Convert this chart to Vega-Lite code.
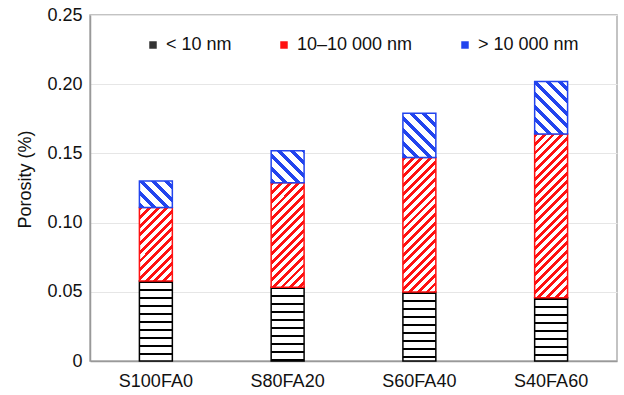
{
  "$schema": "https://vega.github.io/schema/vega-lite/v6.json",
  "width": 527,
  "height": 346,
  "autosize": {"type": "none"},
  "padding": {"left": 90, "top": 15, "right": 7, "bottom": 34},
  "config": {
    "font": "Liberation Sans",
    "view": {"stroke": "#b0b0b0", "strokeWidth": 1.5},
    "axis": {"labelFontSize": 18, "labelColor": "#111", "titleColor": "#111", "titleFontSize": 18, "titleFontWeight": "normal", "domainColor": "#999", "domainWidth": 1.5, "ticks": false, "tickSize": 0, "gridColor": "#e6e6e6", "gridWidth": 1},
    "legend": {"labelFontSize": 18, "labelColor": "#111"}
  },
  "data": {
    "values": [
      {"sample": "S100FA0", "size": "< 10 nm", "k": 1, "porosity": 0.0578},
      {"sample": "S100FA0", "size": "10–10 000 nm", "k": 2, "porosity": 0.0532},
      {"sample": "S100FA0", "size": "> 10 000 nm", "k": 3, "porosity": 0.019},
      {"sample": "S80FA20", "size": "< 10 nm", "k": 1, "porosity": 0.0532},
      {"sample": "S80FA20", "size": "10–10 000 nm", "k": 2, "porosity": 0.0756},
      {"sample": "S80FA20", "size": "> 10 000 nm", "k": 3, "porosity": 0.0232},
      {"sample": "S60FA40", "size": "< 10 nm", "k": 1, "porosity": 0.0499},
      {"sample": "S60FA40", "size": "10–10 000 nm", "k": 2, "porosity": 0.0971},
      {"sample": "S60FA40", "size": "> 10 000 nm", "k": 3, "porosity": 0.032},
      {"sample": "S40FA60", "size": "< 10 nm", "k": 1, "porosity": 0.0457},
      {"sample": "S40FA60", "size": "10–10 000 nm", "k": 2, "porosity": 0.1183},
      {"sample": "S40FA60", "size": "> 10 000 nm", "k": 3, "porosity": 0.038}
    ]
  },
  "layer": [
  {
  "mark": {"type": "bar", "strokeWidth": 1.5},
  "encoding": {
    "x": {"field": "sample", "type": "nominal", "sort": ["S100FA0", "S80FA20", "S60FA40", "S40FA60"], "scale": {"paddingInner": 0.75, "paddingOuter": 0.375}, "axis": {"title": null, "labelAngle": 0, "labelPadding": 11, "grid": false}},
    "y": {"field": "porosity", "type": "quantitative", "stack": "zero", "scale": {"domain": [0, 0.25], "nice": false}, "axis": {"title": "Porosity (%)", "values": [0, 0.05, 0.1, 0.15, 0.2, 0.25], "labelExpr": "datum.value === 0 ? '0' : format(datum.value, '.2f')", "labelPadding": 8, "grid": true, "titleX": -65, "titleY": 164, "titleAngle": -90, "titleAlign": "center", "titleBaseline": "middle"}},
    "order": {"field": "k", "type": "quantitative"},
    "stroke": {"field": "size", "type": "nominal", "scale": {"domain": ["> 10 000 nm", "10–10 000 nm", "< 10 nm"], "range": ["#24e", "#f11", "#000"]}, "legend": null},
    "fill": {
      "condition": [
        {"test": "datum.k == 1 && datum.sample == 'S100FA0'", "value": {"gradient": "linear", "x1": 0, "y1": 0, "x2": 0, "y2": 1.25, "stops": [{"offset":0,"color":"#000"},{"offset":0.02,"color":"#000"},{"offset":0.02,"color":"#fff"},{"offset":0.08,"color":"#fff"},{"offset":0.08,"color":"#000"},{"offset":0.1,"color":"#000"},{"offset":0.1,"color":"#fff"},{"offset":0.16,"color":"#fff"},{"offset":0.16,"color":"#000"},{"offset":0.18,"color":"#000"},{"offset":0.18,"color":"#fff"},{"offset":0.24,"color":"#fff"},{"offset":0.24,"color":"#000"},{"offset":0.26,"color":"#000"},{"offset":0.26,"color":"#fff"},{"offset":0.32,"color":"#fff"},{"offset":0.32,"color":"#000"},{"offset":0.34,"color":"#000"},{"offset":0.34,"color":"#fff"},{"offset":0.4,"color":"#fff"},{"offset":0.4,"color":"#000"},{"offset":0.42,"color":"#000"},{"offset":0.42,"color":"#fff"},{"offset":0.48,"color":"#fff"},{"offset":0.48,"color":"#000"},{"offset":0.5,"color":"#000"},{"offset":0.5,"color":"#fff"},{"offset":0.56,"color":"#fff"},{"offset":0.56,"color":"#000"},{"offset":0.58,"color":"#000"},{"offset":0.58,"color":"#fff"},{"offset":0.64,"color":"#fff"},{"offset":0.64,"color":"#000"},{"offset":0.66,"color":"#000"},{"offset":0.66,"color":"#fff"},{"offset":0.72,"color":"#fff"},{"offset":0.72,"color":"#000"},{"offset":0.74,"color":"#000"},{"offset":0.74,"color":"#fff"},{"offset":0.8,"color":"#fff"},{"offset":0.8,"color":"#000"},{"offset":0.82,"color":"#000"},{"offset":0.82,"color":"#fff"},{"offset":1,"color":"#fff"}]}},
        {"test": "datum.k == 1 && datum.sample == 'S80FA20'", "value": {"gradient": "linear", "x1": 0, "y1": 0, "x2": 0, "y2": 1.3587, "stops": [{"offset":0,"color":"#000"},{"offset":0.02,"color":"#000"},{"offset":0.02,"color":"#fff"},{"offset":0.08,"color":"#fff"},{"offset":0.08,"color":"#000"},{"offset":0.1,"color":"#000"},{"offset":0.1,"color":"#fff"},{"offset":0.16,"color":"#fff"},{"offset":0.16,"color":"#000"},{"offset":0.18,"color":"#000"},{"offset":0.18,"color":"#fff"},{"offset":0.24,"color":"#fff"},{"offset":0.24,"color":"#000"},{"offset":0.26,"color":"#000"},{"offset":0.26,"color":"#fff"},{"offset":0.32,"color":"#fff"},{"offset":0.32,"color":"#000"},{"offset":0.34,"color":"#000"},{"offset":0.34,"color":"#fff"},{"offset":0.4,"color":"#fff"},{"offset":0.4,"color":"#000"},{"offset":0.42,"color":"#000"},{"offset":0.42,"color":"#fff"},{"offset":0.48,"color":"#fff"},{"offset":0.48,"color":"#000"},{"offset":0.5,"color":"#000"},{"offset":0.5,"color":"#fff"},{"offset":0.56,"color":"#fff"},{"offset":0.56,"color":"#000"},{"offset":0.58,"color":"#000"},{"offset":0.58,"color":"#fff"},{"offset":0.64,"color":"#fff"},{"offset":0.64,"color":"#000"},{"offset":0.66,"color":"#000"},{"offset":0.66,"color":"#fff"},{"offset":0.72,"color":"#fff"},{"offset":0.72,"color":"#000"},{"offset":0.74,"color":"#000"},{"offset":0.74,"color":"#fff"},{"offset":1,"color":"#fff"}]}},
        {"test": "datum.k == 1 && datum.sample == 'S60FA40'", "value": {"gradient": "linear", "x1": 0, "y1": 0, "x2": 0, "y2": 1.4472, "stops": [{"offset":0,"color":"#000"},{"offset":0.02,"color":"#000"},{"offset":0.02,"color":"#fff"},{"offset":0.08,"color":"#fff"},{"offset":0.08,"color":"#000"},{"offset":0.1,"color":"#000"},{"offset":0.1,"color":"#fff"},{"offset":0.16,"color":"#fff"},{"offset":0.16,"color":"#000"},{"offset":0.18,"color":"#000"},{"offset":0.18,"color":"#fff"},{"offset":0.24,"color":"#fff"},{"offset":0.24,"color":"#000"},{"offset":0.26,"color":"#000"},{"offset":0.26,"color":"#fff"},{"offset":0.32,"color":"#fff"},{"offset":0.32,"color":"#000"},{"offset":0.34,"color":"#000"},{"offset":0.34,"color":"#fff"},{"offset":0.4,"color":"#fff"},{"offset":0.4,"color":"#000"},{"offset":0.42,"color":"#000"},{"offset":0.42,"color":"#fff"},{"offset":0.48,"color":"#fff"},{"offset":0.48,"color":"#000"},{"offset":0.5,"color":"#000"},{"offset":0.5,"color":"#fff"},{"offset":0.56,"color":"#fff"},{"offset":0.56,"color":"#000"},{"offset":0.58,"color":"#000"},{"offset":0.58,"color":"#fff"},{"offset":0.64,"color":"#fff"},{"offset":0.64,"color":"#000"},{"offset":0.66,"color":"#000"},{"offset":0.66,"color":"#fff"},{"offset":1,"color":"#fff"}]}},
        {"test": "datum.k == 1 && datum.sample == 'S40FA60'", "value": {"gradient": "linear", "x1": 0, "y1": 0, "x2": 0, "y2": 1.5823, "stops": [{"offset":0,"color":"#000"},{"offset":0.02,"color":"#000"},{"offset":0.02,"color":"#fff"},{"offset":0.08,"color":"#fff"},{"offset":0.08,"color":"#000"},{"offset":0.1,"color":"#000"},{"offset":0.1,"color":"#fff"},{"offset":0.16,"color":"#fff"},{"offset":0.16,"color":"#000"},{"offset":0.18,"color":"#000"},{"offset":0.18,"color":"#fff"},{"offset":0.24,"color":"#fff"},{"offset":0.24,"color":"#000"},{"offset":0.26,"color":"#000"},{"offset":0.26,"color":"#fff"},{"offset":0.32,"color":"#fff"},{"offset":0.32,"color":"#000"},{"offset":0.34,"color":"#000"},{"offset":0.34,"color":"#fff"},{"offset":0.4,"color":"#fff"},{"offset":0.4,"color":"#000"},{"offset":0.42,"color":"#000"},{"offset":0.42,"color":"#fff"},{"offset":0.48,"color":"#fff"},{"offset":0.48,"color":"#000"},{"offset":0.5,"color":"#000"},{"offset":0.5,"color":"#fff"},{"offset":0.56,"color":"#fff"},{"offset":0.56,"color":"#000"},{"offset":0.58,"color":"#000"},{"offset":0.58,"color":"#fff"},{"offset":1,"color":"#fff"}]}},
        {"test": "datum.k == 2 && datum.sample == 'S100FA0'", "value": {"gradient": "linear", "x1": 0, "y1": 0, "x2": 1.1019, "y2": 2.462, "stops": [{"offset":0,"color":"#f11"},{"offset":0.018,"color":"#f11"},{"offset":0.018,"color":"#fff"},{"offset":0.04,"color":"#fff"},{"offset":0.04,"color":"#f11"},{"offset":0.058,"color":"#f11"},{"offset":0.058,"color":"#fff"},{"offset":0.08,"color":"#fff"},{"offset":0.08,"color":"#f11"},{"offset":0.098,"color":"#f11"},{"offset":0.098,"color":"#fff"},{"offset":0.12,"color":"#fff"},{"offset":0.12,"color":"#f11"},{"offset":0.138,"color":"#f11"},{"offset":0.138,"color":"#fff"},{"offset":0.16,"color":"#fff"},{"offset":0.16,"color":"#f11"},{"offset":0.178,"color":"#f11"},{"offset":0.178,"color":"#fff"},{"offset":0.2,"color":"#fff"},{"offset":0.2,"color":"#f11"},{"offset":0.218,"color":"#f11"},{"offset":0.218,"color":"#fff"},{"offset":0.24,"color":"#fff"},{"offset":0.24,"color":"#f11"},{"offset":0.258,"color":"#f11"},{"offset":0.258,"color":"#fff"},{"offset":0.28,"color":"#fff"},{"offset":0.28,"color":"#f11"},{"offset":0.298,"color":"#f11"},{"offset":0.298,"color":"#fff"},{"offset":0.32,"color":"#fff"},{"offset":0.32,"color":"#f11"},{"offset":0.338,"color":"#f11"},{"offset":0.338,"color":"#fff"},{"offset":0.36,"color":"#fff"},{"offset":0.36,"color":"#f11"},{"offset":0.378,"color":"#f11"},{"offset":0.378,"color":"#fff"},{"offset":0.4,"color":"#fff"},{"offset":0.4,"color":"#f11"},{"offset":0.418,"color":"#f11"},{"offset":0.418,"color":"#fff"},{"offset":0.44,"color":"#fff"},{"offset":0.44,"color":"#f11"},{"offset":0.458,"color":"#f11"},{"offset":0.458,"color":"#fff"},{"offset":0.48,"color":"#fff"},{"offset":0.48,"color":"#f11"},{"offset":0.498,"color":"#f11"},{"offset":0.498,"color":"#fff"},{"offset":1,"color":"#fff"}]}},
        {"test": "datum.k == 2 && datum.sample == 'S80FA20'", "value": {"gradient": "linear", "x1": 0, "y1": 0, "x2": 0.5958, "y2": 1.8918, "stops": [{"offset":0,"color":"#f11"},{"offset":0.018,"color":"#f11"},{"offset":0.018,"color":"#fff"},{"offset":0.04,"color":"#fff"},{"offset":0.04,"color":"#f11"},{"offset":0.058,"color":"#f11"},{"offset":0.058,"color":"#fff"},{"offset":0.08,"color":"#fff"},{"offset":0.08,"color":"#f11"},{"offset":0.098,"color":"#f11"},{"offset":0.098,"color":"#fff"},{"offset":0.12,"color":"#fff"},{"offset":0.12,"color":"#f11"},{"offset":0.138,"color":"#f11"},{"offset":0.138,"color":"#fff"},{"offset":0.16,"color":"#fff"},{"offset":0.16,"color":"#f11"},{"offset":0.178,"color":"#f11"},{"offset":0.178,"color":"#fff"},{"offset":0.2,"color":"#fff"},{"offset":0.2,"color":"#f11"},{"offset":0.218,"color":"#f11"},{"offset":0.218,"color":"#fff"},{"offset":0.24,"color":"#fff"},{"offset":0.24,"color":"#f11"},{"offset":0.258,"color":"#f11"},{"offset":0.258,"color":"#fff"},{"offset":0.28,"color":"#fff"},{"offset":0.28,"color":"#f11"},{"offset":0.298,"color":"#f11"},{"offset":0.298,"color":"#fff"},{"offset":0.32,"color":"#fff"},{"offset":0.32,"color":"#f11"},{"offset":0.338,"color":"#f11"},{"offset":0.338,"color":"#fff"},{"offset":0.36,"color":"#fff"},{"offset":0.36,"color":"#f11"},{"offset":0.378,"color":"#f11"},{"offset":0.378,"color":"#fff"},{"offset":0.4,"color":"#fff"},{"offset":0.4,"color":"#f11"},{"offset":0.418,"color":"#f11"},{"offset":0.418,"color":"#fff"},{"offset":0.44,"color":"#fff"},{"offset":0.44,"color":"#f11"},{"offset":0.458,"color":"#f11"},{"offset":0.458,"color":"#fff"},{"offset":0.48,"color":"#fff"},{"offset":0.48,"color":"#f11"},{"offset":0.498,"color":"#f11"},{"offset":0.498,"color":"#fff"},{"offset":0.52,"color":"#fff"},{"offset":0.52,"color":"#f11"},{"offset":0.538,"color":"#f11"},{"offset":0.538,"color":"#fff"},{"offset":0.56,"color":"#fff"},{"offset":0.56,"color":"#f11"},{"offset":0.578,"color":"#f11"},{"offset":0.578,"color":"#fff"},{"offset":0.6,"color":"#fff"},{"offset":0.6,"color":"#f11"},{"offset":0.618,"color":"#f11"},{"offset":0.618,"color":"#fff"},{"offset":1,"color":"#fff"}]}},
        {"test": "datum.k == 2 && datum.sample == 'S60FA40'", "value": {"gradient": "linear", "x1": 0, "y1": 0, "x2": 0.3742, "y2": 1.5266, "stops": [{"offset":0,"color":"#f11"},{"offset":0.018,"color":"#f11"},{"offset":0.018,"color":"#fff"},{"offset":0.04,"color":"#fff"},{"offset":0.04,"color":"#f11"},{"offset":0.058,"color":"#f11"},{"offset":0.058,"color":"#fff"},{"offset":0.08,"color":"#fff"},{"offset":0.08,"color":"#f11"},{"offset":0.098,"color":"#f11"},{"offset":0.098,"color":"#fff"},{"offset":0.12,"color":"#fff"},{"offset":0.12,"color":"#f11"},{"offset":0.138,"color":"#f11"},{"offset":0.138,"color":"#fff"},{"offset":0.16,"color":"#fff"},{"offset":0.16,"color":"#f11"},{"offset":0.178,"color":"#f11"},{"offset":0.178,"color":"#fff"},{"offset":0.2,"color":"#fff"},{"offset":0.2,"color":"#f11"},{"offset":0.218,"color":"#f11"},{"offset":0.218,"color":"#fff"},{"offset":0.24,"color":"#fff"},{"offset":0.24,"color":"#f11"},{"offset":0.258,"color":"#f11"},{"offset":0.258,"color":"#fff"},{"offset":0.28,"color":"#fff"},{"offset":0.28,"color":"#f11"},{"offset":0.298,"color":"#f11"},{"offset":0.298,"color":"#fff"},{"offset":0.32,"color":"#fff"},{"offset":0.32,"color":"#f11"},{"offset":0.338,"color":"#f11"},{"offset":0.338,"color":"#fff"},{"offset":0.36,"color":"#fff"},{"offset":0.36,"color":"#f11"},{"offset":0.378,"color":"#f11"},{"offset":0.378,"color":"#fff"},{"offset":0.4,"color":"#fff"},{"offset":0.4,"color":"#f11"},{"offset":0.418,"color":"#f11"},{"offset":0.418,"color":"#fff"},{"offset":0.44,"color":"#fff"},{"offset":0.44,"color":"#f11"},{"offset":0.458,"color":"#f11"},{"offset":0.458,"color":"#fff"},{"offset":0.48,"color":"#fff"},{"offset":0.48,"color":"#f11"},{"offset":0.498,"color":"#f11"},{"offset":0.498,"color":"#fff"},{"offset":0.52,"color":"#fff"},{"offset":0.52,"color":"#f11"},{"offset":0.538,"color":"#f11"},{"offset":0.538,"color":"#fff"},{"offset":0.56,"color":"#fff"},{"offset":0.56,"color":"#f11"},{"offset":0.578,"color":"#f11"},{"offset":0.578,"color":"#fff"},{"offset":0.6,"color":"#fff"},{"offset":0.6,"color":"#f11"},{"offset":0.618,"color":"#f11"},{"offset":0.618,"color":"#fff"},{"offset":0.64,"color":"#fff"},{"offset":0.64,"color":"#f11"},{"offset":0.658,"color":"#f11"},{"offset":0.658,"color":"#fff"},{"offset":0.68,"color":"#fff"},{"offset":0.68,"color":"#f11"},{"offset":0.698,"color":"#f11"},{"offset":0.698,"color":"#fff"},{"offset":0.72,"color":"#fff"},{"offset":0.72,"color":"#f11"},{"offset":0.738,"color":"#f11"},{"offset":0.738,"color":"#fff"},{"offset":0.76,"color":"#fff"},{"offset":0.76,"color":"#f11"},{"offset":0.778,"color":"#f11"},{"offset":0.778,"color":"#fff"},{"offset":1,"color":"#fff"}]}},
        {"test": "datum.k == 2 && datum.sample == 'S40FA60'", "value": {"gradient": "linear", "x1": 0, "y1": 0, "x2": 0.2569, "y2": 1.2769, "stops": [{"offset":0,"color":"#f11"},{"offset":0.018,"color":"#f11"},{"offset":0.018,"color":"#fff"},{"offset":0.04,"color":"#fff"},{"offset":0.04,"color":"#f11"},{"offset":0.058,"color":"#f11"},{"offset":0.058,"color":"#fff"},{"offset":0.08,"color":"#fff"},{"offset":0.08,"color":"#f11"},{"offset":0.098,"color":"#f11"},{"offset":0.098,"color":"#fff"},{"offset":0.12,"color":"#fff"},{"offset":0.12,"color":"#f11"},{"offset":0.138,"color":"#f11"},{"offset":0.138,"color":"#fff"},{"offset":0.16,"color":"#fff"},{"offset":0.16,"color":"#f11"},{"offset":0.178,"color":"#f11"},{"offset":0.178,"color":"#fff"},{"offset":0.2,"color":"#fff"},{"offset":0.2,"color":"#f11"},{"offset":0.218,"color":"#f11"},{"offset":0.218,"color":"#fff"},{"offset":0.24,"color":"#fff"},{"offset":0.24,"color":"#f11"},{"offset":0.258,"color":"#f11"},{"offset":0.258,"color":"#fff"},{"offset":0.28,"color":"#fff"},{"offset":0.28,"color":"#f11"},{"offset":0.298,"color":"#f11"},{"offset":0.298,"color":"#fff"},{"offset":0.32,"color":"#fff"},{"offset":0.32,"color":"#f11"},{"offset":0.338,"color":"#f11"},{"offset":0.338,"color":"#fff"},{"offset":0.36,"color":"#fff"},{"offset":0.36,"color":"#f11"},{"offset":0.378,"color":"#f11"},{"offset":0.378,"color":"#fff"},{"offset":0.4,"color":"#fff"},{"offset":0.4,"color":"#f11"},{"offset":0.418,"color":"#f11"},{"offset":0.418,"color":"#fff"},{"offset":0.44,"color":"#fff"},{"offset":0.44,"color":"#f11"},{"offset":0.458,"color":"#f11"},{"offset":0.458,"color":"#fff"},{"offset":0.48,"color":"#fff"},{"offset":0.48,"color":"#f11"},{"offset":0.498,"color":"#f11"},{"offset":0.498,"color":"#fff"},{"offset":0.52,"color":"#fff"},{"offset":0.52,"color":"#f11"},{"offset":0.538,"color":"#f11"},{"offset":0.538,"color":"#fff"},{"offset":0.56,"color":"#fff"},{"offset":0.56,"color":"#f11"},{"offset":0.578,"color":"#f11"},{"offset":0.578,"color":"#fff"},{"offset":0.6,"color":"#fff"},{"offset":0.6,"color":"#f11"},{"offset":0.618,"color":"#f11"},{"offset":0.618,"color":"#fff"},{"offset":0.64,"color":"#fff"},{"offset":0.64,"color":"#f11"},{"offset":0.658,"color":"#f11"},{"offset":0.658,"color":"#fff"},{"offset":0.68,"color":"#fff"},{"offset":0.68,"color":"#f11"},{"offset":0.698,"color":"#f11"},{"offset":0.698,"color":"#fff"},{"offset":0.72,"color":"#fff"},{"offset":0.72,"color":"#f11"},{"offset":0.738,"color":"#f11"},{"offset":0.738,"color":"#fff"},{"offset":0.76,"color":"#fff"},{"offset":0.76,"color":"#f11"},{"offset":0.778,"color":"#f11"},{"offset":0.778,"color":"#fff"},{"offset":0.8,"color":"#fff"},{"offset":0.8,"color":"#f11"},{"offset":0.818,"color":"#f11"},{"offset":0.818,"color":"#fff"},{"offset":0.84,"color":"#fff"},{"offset":0.84,"color":"#f11"},{"offset":0.858,"color":"#f11"},{"offset":0.858,"color":"#fff"},{"offset":0.88,"color":"#fff"},{"offset":0.88,"color":"#f11"},{"offset":0.898,"color":"#f11"},{"offset":0.898,"color":"#fff"},{"offset":1,"color":"#fff"}]}},
        {"test": "datum.k == 3 && datum.sample == 'S100FA0'", "value": {"gradient": "linear", "x1": 0, "y1": 1, "x2": 1.8539, "y2": -0.4802, "stops": [{"offset":0,"color":"#24e"},{"offset":0.05,"color":"#24e"},{"offset":0.05,"color":"#fff"},{"offset":0.125,"color":"#fff"},{"offset":0.125,"color":"#24e"},{"offset":0.175,"color":"#24e"},{"offset":0.175,"color":"#fff"},{"offset":0.25,"color":"#fff"},{"offset":0.25,"color":"#24e"},{"offset":0.3,"color":"#24e"},{"offset":0.3,"color":"#fff"},{"offset":0.375,"color":"#fff"},{"offset":0.375,"color":"#24e"},{"offset":0.425,"color":"#24e"},{"offset":0.425,"color":"#fff"},{"offset":0.5,"color":"#fff"},{"offset":0.5,"color":"#24e"},{"offset":0.55,"color":"#24e"},{"offset":0.55,"color":"#fff"},{"offset":0.625,"color":"#fff"},{"offset":0.625,"color":"#24e"},{"offset":0.675,"color":"#24e"},{"offset":0.675,"color":"#fff"},{"offset":0.75,"color":"#fff"},{"offset":0.75,"color":"#24e"},{"offset":0.8,"color":"#24e"},{"offset":0.8,"color":"#fff"},{"offset":1,"color":"#fff"}]}},
        {"test": "datum.k == 3 && datum.sample == 'S80FA20'", "value": {"gradient": "linear", "x1": 0, "y1": 1, "x2": 1.5571, "y2": -0.5174, "stops": [{"offset":0,"color":"#24e"},{"offset":0.05,"color":"#24e"},{"offset":0.05,"color":"#fff"},{"offset":0.125,"color":"#fff"},{"offset":0.125,"color":"#24e"},{"offset":0.175,"color":"#24e"},{"offset":0.175,"color":"#fff"},{"offset":0.25,"color":"#fff"},{"offset":0.25,"color":"#24e"},{"offset":0.3,"color":"#24e"},{"offset":0.3,"color":"#fff"},{"offset":0.375,"color":"#fff"},{"offset":0.375,"color":"#24e"},{"offset":0.425,"color":"#24e"},{"offset":0.425,"color":"#fff"},{"offset":0.5,"color":"#fff"},{"offset":0.5,"color":"#24e"},{"offset":0.55,"color":"#24e"},{"offset":0.55,"color":"#fff"},{"offset":0.625,"color":"#fff"},{"offset":0.625,"color":"#24e"},{"offset":0.675,"color":"#24e"},{"offset":0.675,"color":"#fff"},{"offset":0.75,"color":"#fff"},{"offset":0.75,"color":"#24e"},{"offset":0.8,"color":"#24e"},{"offset":0.8,"color":"#fff"},{"offset":1,"color":"#fff"}]}},
        {"test": "datum.k == 3 && datum.sample == 'S60FA40'", "value": {"gradient": "linear", "x1": 0, "y1": 1, "x2": 1.0809, "y2": -0.4536, "stops": [{"offset":0,"color":"#24e"},{"offset":0.05,"color":"#24e"},{"offset":0.05,"color":"#fff"},{"offset":0.125,"color":"#fff"},{"offset":0.125,"color":"#24e"},{"offset":0.175,"color":"#24e"},{"offset":0.175,"color":"#fff"},{"offset":0.25,"color":"#fff"},{"offset":0.25,"color":"#24e"},{"offset":0.3,"color":"#24e"},{"offset":0.3,"color":"#fff"},{"offset":0.375,"color":"#fff"},{"offset":0.375,"color":"#24e"},{"offset":0.425,"color":"#24e"},{"offset":0.425,"color":"#fff"},{"offset":0.5,"color":"#fff"},{"offset":0.5,"color":"#24e"},{"offset":0.55,"color":"#24e"},{"offset":0.55,"color":"#fff"},{"offset":0.625,"color":"#fff"},{"offset":0.625,"color":"#24e"},{"offset":0.675,"color":"#24e"},{"offset":0.675,"color":"#fff"},{"offset":0.75,"color":"#fff"},{"offset":0.75,"color":"#24e"},{"offset":0.8,"color":"#24e"},{"offset":0.8,"color":"#fff"},{"offset":1,"color":"#fff"}]}},
        {"test": "datum.k == 3 && datum.sample == 'S40FA60'", "value": {"gradient": "linear", "x1": 0, "y1": 1, "x2": 0.8552, "y2": -0.3655, "stops": [{"offset":0,"color":"#24e"},{"offset":0.05,"color":"#24e"},{"offset":0.05,"color":"#fff"},{"offset":0.125,"color":"#fff"},{"offset":0.125,"color":"#24e"},{"offset":0.175,"color":"#24e"},{"offset":0.175,"color":"#fff"},{"offset":0.25,"color":"#fff"},{"offset":0.25,"color":"#24e"},{"offset":0.3,"color":"#24e"},{"offset":0.3,"color":"#fff"},{"offset":0.375,"color":"#fff"},{"offset":0.375,"color":"#24e"},{"offset":0.425,"color":"#24e"},{"offset":0.425,"color":"#fff"},{"offset":0.5,"color":"#fff"},{"offset":0.5,"color":"#24e"},{"offset":0.55,"color":"#24e"},{"offset":0.55,"color":"#fff"},{"offset":0.625,"color":"#fff"},{"offset":0.625,"color":"#24e"},{"offset":0.675,"color":"#24e"},{"offset":0.675,"color":"#fff"},{"offset":0.75,"color":"#fff"},{"offset":0.75,"color":"#24e"},{"offset":0.8,"color":"#24e"},{"offset":0.8,"color":"#fff"},{"offset":1,"color":"#fff"}]}}
      ],
      "value": "#fff"
    }
  }
  },
  {
    "mark": {"type": "square", "size": 0, "filled": true, "opacity": 1},
    "encoding": {
      "x": {"field": "sample", "type": "nominal", "sort": ["S100FA0", "S80FA20", "S60FA40", "S40FA60"]},
      "y": {"field": "porosity", "type": "quantitative", "stack": null},
      "color": {"field": "size", "type": "nominal", "scale": {"domain": ["< 10 nm", "10–10 000 nm", "> 10 000 nm"], "range": ["#333", "#f11", "#24e"]}, "legend": {"title": null, "orient": "none", "legendX": 54, "legendY": 21, "direction": "horizontal", "columns": 3, "columnPadding": 43, "labelOffset": 4, "symbolType": "square", "symbolSize": 56, "symbolStrokeWidth": 0, "symbolOpacity": 1, "padding": 0}}
    }
  }
  ]
}
